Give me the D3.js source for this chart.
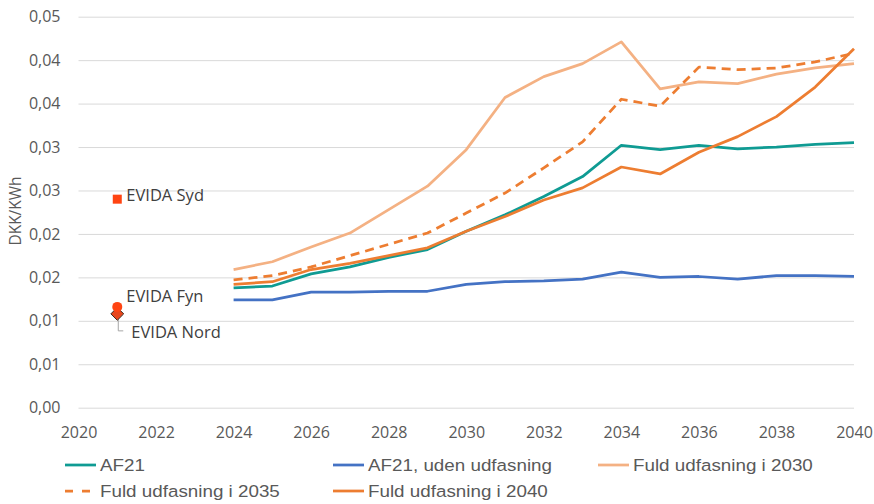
<!DOCTYPE html>
<html>
<head>
<meta charset="utf-8">
<script src="https://cdn.jsdelivr.net/npm/d3@7"></script>
<style>
  body { margin: 0; background: #fff; }
  svg { display: block; }
</style>
</head>
<body>
<svg id="chart" width="874" height="504"></svg>
<script>
// ---- data ----
const years = [2024,2025,2026,2027,2028,2029,2030,2031,2032,2033,2034,2035,2036,2037,2038,2039,2040];
const af21 =      [0.0138,0.0140,0.0154,0.0162,0.0173,0.0182,0.0203,0.0222,0.0243,0.0266,0.0302,0.0297,0.0302,0.0298,0.0300,0.0303,0.0305];
const af21Uden =  [0.0124,0.0124,0.0133,0.0133,0.0134,0.0134,0.0142,0.0145,0.0146,0.0148,0.0156,0.0150,0.0151,0.0148,0.0152,0.0152,0.0151];
const fuld2030 =  [0.0159,0.0168,0.0185,0.0201,0.0228,0.0255,0.0297,0.0357,0.0381,0.0396,0.0421,0.0367,0.0375,0.0373,0.0384,0.0391,0.0396];
const fuld2035 =  [0.0147,0.0152,0.0162,0.0175,0.0188,0.0201,0.0224,0.0247,0.0276,0.0306,0.0355,0.0347,0.0392,0.0389,0.0391,0.0398,0.0408];
const fuld2040 =  [0.0142,0.0145,0.0159,0.0166,0.0175,0.0184,0.0203,0.0220,0.0239,0.0253,0.0277,0.0269,0.0294,0.0312,0.0335,0.0369,0.0413];
const seriesNames = ["AF21","AF21, uden udfasning","Fuld udfasning i 2030","Fuld udfasning i 2035","Fuld udfasning i 2040"];

const evidaNames = ["EVIDA Syd","EVIDA Fyn","EVIDA Nord"];
const evidaYear = [2021,2021,2021];
const evidaValues = [0.0240,0.0116,0.0108];

const yTicks = [0,0.005,0.01,0.015,0.02,0.025,0.03,0.035,0.04,0.045];
const yTickLabels = ["0,00","0,01","0,01","0,02","0,02","0,03","0,03","0,04","0,04","0,05"];
const xTicks = [2020,2022,2024,2026,2028,2030,2032,2034,2036,2038,2040];
const yTitle = "DKK/KWh";

// ---- styles ----
const styles = [
  {color:"#0f9b93", dash:null},
  {color:"#4472C4", dash:null},
  {color:"#F4B183", dash:null},
  {color:"#ED7D31", dash:"9,6"},
  {color:"#ED7D31", dash:null}
];
const seriesData = [af21, af21Uden, fuld2030, fuld2035, fuld2040];

const svg = d3.select("#chart");
const pLeft = 78.5, pRight = 854, pTop = 16.7, pBottom = 407.7;
const x = d3.scaleLinear().domain([2020,2040]).range([pLeft,pRight]);
const y = d3.scaleLinear().domain([0,0.045]).range([pBottom,pTop]);
const font = "'Open Sans', 'Noto Sans', sans-serif";

// y axis + gridlines
const yAxis = svg.append("g").attr("transform",`translate(${pLeft},0)`)
  .call(d3.axisLeft(y).tickValues(yTicks).tickSize(-(pRight-pLeft)).tickPadding(18)
    .tickFormat((d,i)=>yTickLabels[i]));
yAxis.select(".domain").remove();
yAxis.selectAll("line").attr("stroke","#d9d9d9").attr("stroke-width",1);
yAxis.selectAll("text").attr("fill","#595959").style("font-family",font).style("font-size","16px");

// x axis
const xAxis = svg.append("g").attr("transform",`translate(0,${pBottom})`)
  .call(d3.axisBottom(x).tickValues(xTicks).tickSize(0).tickPadding(19).tickFormat(d3.format("d")));
xAxis.select(".domain").remove();
xAxis.selectAll("text").attr("fill","#595959").style("font-family",font).style("font-size","16px");

// y title
svg.append("text").attr("transform","translate(21,211) rotate(-90)")
  .attr("text-anchor","middle").attr("fill","#595959")
  .style("font-family",font).style("font-size","15.5px").text(yTitle);

// lines
const line = d3.line().x((d,i)=>x(years[i])).y(d=>y(d));
const drawOrder = [1,2,3,0,4];
drawOrder.forEach(k=>{
  svg.append("path").datum(seriesData[k])
    .attr("d",line).attr("fill","none")
    .attr("stroke",styles[k].color).attr("stroke-width",2.75)
    .attr("stroke-linejoin","round")
    .attr("stroke-dasharray",styles[k].dash);
});

// EVIDA markers
// Syd square
svg.append("rect").attr("x",x(evidaYear[0])-4.5).attr("y",y(evidaValues[0])-4.5)
  .attr("width",9).attr("height",9).attr("fill","#FF4412");
// Nord leader line
svg.append("polyline")
  .attr("points",`${x(evidaYear[2])+1},${y(evidaValues[2])+3} ${x(evidaYear[2])+1},${y(evidaValues[2])+17} ${x(evidaYear[2])+6},${y(evidaValues[2])+17}`)
  .attr("fill","none").attr("stroke","#a6a6a6").attr("stroke-width",1);
// Nord diamond
svg.append("path")
  .attr("d",d3.symbol().type(d3.symbolDiamond2).size(105)())
  .attr("transform",`translate(${x(evidaYear[2])},${y(evidaValues[2])})`)
  .attr("fill","#E8461C").attr("stroke","#3a2a20").attr("stroke-width",1);
// Fyn circle
svg.append("circle").attr("cx",x(evidaYear[1])).attr("cy",y(evidaValues[1])).attr("r",5)
  .attr("fill","#FF4412");

// EVIDA labels
const labelOffsets = [[9,-4],[9,-11],[14,18]];
evidaNames.forEach((n,i)=>{
  svg.append("text").attr("x",x(evidaYear[i])+labelOffsets[i][0]).attr("y",y(evidaValues[i])+labelOffsets[i][1])
    .attr("dy","0.35em").attr("fill","#404040")
    .style("font-family",font).style("font-size","16.5px").text(n);
});

// legend
const legendPos = [[65,465],[333,465],[598,465],[65,491],[333,491]];
const legendFont = "'Liberation Sans', Arial, sans-serif";
seriesNames.forEach((n,i)=>{
  const [lx,ly] = legendPos[i];
  const g = svg.append("g").attr("transform",`translate(${lx},${ly})`);
  g.append("line").attr("x1",0).attr("x2",31).attr("y1",0).attr("y2",0)
    .attr("stroke",styles[i].color).attr("stroke-width",2.75)
    .attr("stroke-dasharray",styles[i].dash ? "8,9" : null);
  g.append("text").attr("transform","translate(35,0) scale(1.14,1)")
    .attr("dy","0.35em").attr("fill","#595959")
    .style("font-family",legendFont).style("font-size","16.5px").text(n);
});
</script>
</body>
</html>
